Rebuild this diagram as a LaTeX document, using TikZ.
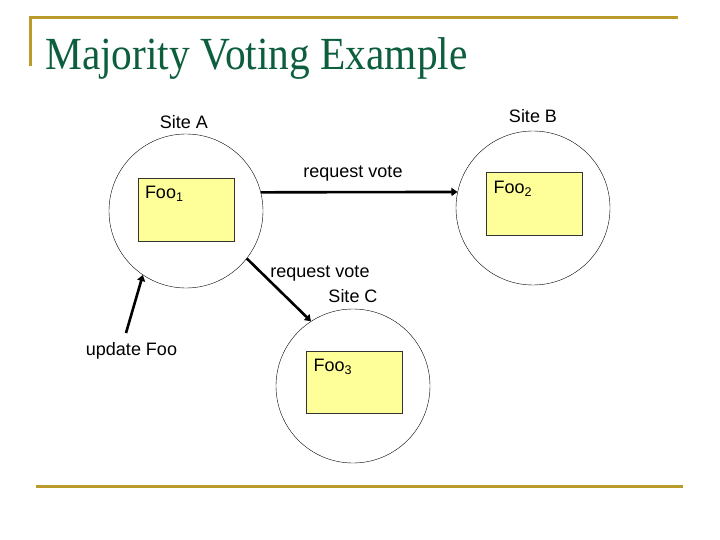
\documentclass[tikz,border=0pt]{standalone}
\usepackage{fontspec}
\setmainfont{Liberation Sans}
\newfontfamily\titlefont{Liberation Serif}
\usetikzlibrary{arrows.meta}

\definecolor{rulegold}{RGB}{186,154,42}
\definecolor{titlegreen}{RGB}{12,94,60}
\definecolor{fooyellow}{RGB}{255,255,153}

\begin{document}
\begin{tikzpicture}[x=1pt, y=-1pt,
    site/.style={draw, circle, thin, minimum size=154pt, inner sep=0pt},
    foobox/.style={draw=black!80, fill=fooyellow, minimum width=96pt, minimum height=63pt, inner sep=0pt},
    lbl/.style={anchor=base, inner sep=0pt, font=\fontsize{18}{21}\selectfont},
    vote/.style={line width=2.6pt, -{Triangle[length=6pt,width=8pt]}}]
\useasboundingbox (0,0) rectangle (720,540);

% slide frame and title
\fill[rulegold] (30,16.5) rectangle (678,19.5);
\fill[rulegold] (29,16.5) rectangle (32,66);
\fill[rulegold] (36,484.5) rectangle (683,488);
\node[anchor=base west, inner sep=0pt, text=titlegreen] (title) at (45,70)
  {\scalebox{0.9}[1]{\titlefont\fontsize{46}{52}\selectfont Majority Voting Example}};

% sites
\node[site] (siteA) at (186,211) {};
\node[site] (siteB) at (533,208) {};
\node[site] (siteC) at (353,386) {};

\node[foobox] (foo1) at (186,209.5) {};
\node[foobox] (foo2) at (534.5,203.5) {};
\node[foobox, minimum height=62pt] (foo3) at (354.5,382) {};

\node[lbl, anchor=base west] at ([shift={(7pt,-21pt)}]foo1.north west) {Foo\textsubscript{1}};
\node[lbl, anchor=base west] at ([shift={(7pt,-22pt)}]foo2.north west) {Foo\textsubscript{2}};
\node[lbl, anchor=base west] at ([shift={(7pt,-21pt)}]foo3.north west) {Foo\textsubscript{3}};

\node[lbl] (lblA) at (184,129) {Site A};
\node[lbl] (lblB) at (533,123) {Site B};
\node[lbl] (lblC) at (353,302) {Site C};
\node[lbl] (reqB) at (353,178) {request vote};
\node[lbl] (reqC) at (320,277) {request vote};
\node[lbl] (upd) at (131.5,355) {update Foo};
\coordinate (updStart) at (126,333);

% messages
\draw[vote] (siteA.14) -- (siteB.168);
\draw[vote] (siteA.-38) -- (siteC.123);
\draw[vote] (updStart) -- (siteA.236);
\end{tikzpicture}
\end{document}
